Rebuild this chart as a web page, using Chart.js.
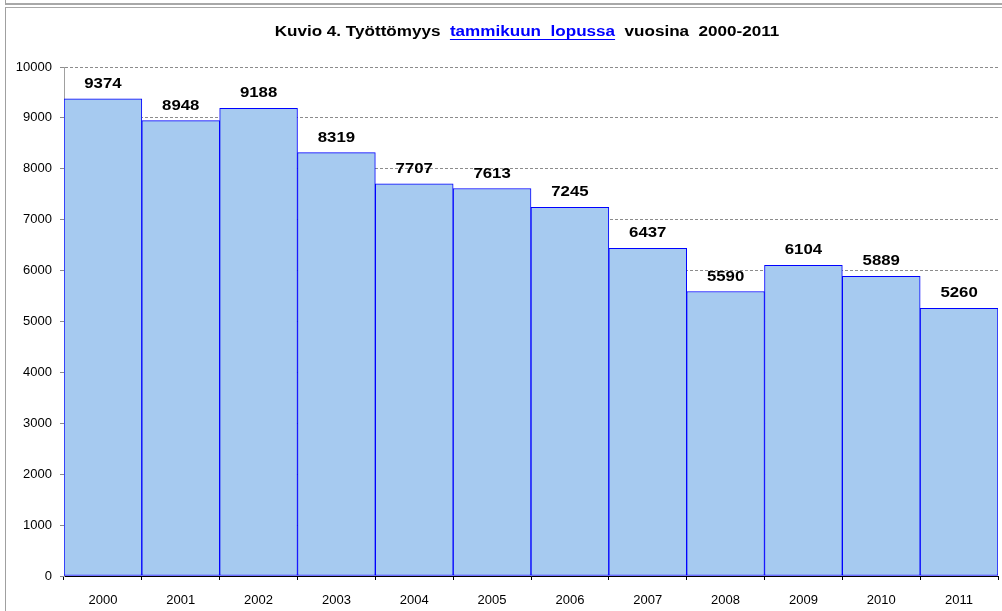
<!DOCTYPE html>
<html>
<head>
<meta charset="utf-8">
<script src="https://cdn.jsdelivr.net/npm/chart.js@4.4.0/dist/chart.umd.min.js"></script>
<style>
    html, body { margin: 0; padding: 0; background: #ffffff; }
    #wrap { position: relative; width: 1002px; height: 611px; overflow: hidden; }
    #topFrame { position: absolute; left: 5px; top: -2px; width: 1000px; height: 5px; border-left: 1px solid #a0a0a0; border-bottom: 2px solid #a8a8a8; }
    #mainFrame { position: absolute; left: 5px; top: 7px; width: 1000px; height: 610px; border-left: 1px solid #a0a0a0; border-top: 1px solid #a8a8a8; }
    #myChart { position: absolute; left: 0; top: 0; }
</style>
</head>
<body>
<div id="wrap">
    <div id="topFrame"></div>
    <div id="mainFrame"></div>
    <canvas id="myChart" width="1002" height="611"></canvas>
</div>
<script>
// Données
const years = ['2000', '2001', '2002', '2003', '2004', '2005', '2006', '2007', '2008', '2009', '2010', '2011'];
const unemployed = [9374, 8948, 9188, 8319, 7707, 7613, 7245, 6437, 5590, 6104, 5889, 5260];
const yTicks = [0, 1000, 2000, 3000, 4000, 5000, 6000, 7000, 8000, 9000, 10000];

const titleParts = [
    { text: 'Kuvio 4. Työttömyys  ', color: '#000000', link: false },
    { text: 'tammikuun  lopussa', color: '#0000ff', link: true },
    { text: '  vuosina  2000-2011', color: '#000000', link: false },
];

const FONT = 'Arial, "Liberation Sans", sans-serif';

/**
 * Titre en plusieurs couleurs, avec le lien souligné (texte un peu étiré comme l'original).
 */
const titlePlugin = {
    id: 'multiTitle',
    afterDraw(chart)
    {
        const ctx = chart.ctx;
        const area = chart.chartArea;
        const stretch = 1.22;
        ctx.save();
        ctx.font = 'bold 14px ' + FONT;
        ctx.textBaseline = 'middle';
        ctx.textAlign = 'left';
        const total = titleParts.reduce((acc, p) => acc + ctx.measureText(p.text).width, 0) * stretch;
        const cx = (area.left + area.right) / 2 - 4;
        const y = 32;
        ctx.translate(cx - total / 2, 0);
        ctx.scale(stretch, 1);
        let x = 0;
        titleParts.forEach(p => {
            const w = ctx.measureText(p.text).width;
            ctx.fillStyle = p.color;
            ctx.fillText(p.text, x, y);
            if (p.link) {
                ctx.fillRect(x, y + 7, w, 1);
            }
            x += w;
        });
        ctx.restore();
    },
};

/**
 * Valeurs au-dessus des barres.
 */
const valueLabels = {
    id: 'valueLabels',
    afterDatasetsDraw(chart)
    {
        const ctx = chart.ctx;
        const meta = chart.getDatasetMeta(0);
        const stretch = 1.12;
        ctx.save();
        ctx.font = 'bold 15px ' + FONT;
        ctx.fillStyle = '#000000';
        ctx.textAlign = 'center';
        ctx.textBaseline = 'middle';
        meta.data.forEach((bar, i) => {
            ctx.save();
            ctx.translate(bar.x, bar.y - 15);
            ctx.scale(stretch, 1);
            ctx.fillText(String(unemployed[i]), 0, 0);
            ctx.restore();
        });
        ctx.restore();
    },
};

const ctx = document.getElementById('myChart').getContext('2d');

const config = {
    type: 'bar',
    data: {
        labels: years,
        datasets: [{
            data: unemployed,
            backgroundColor: '#a6caf0',
            borderColor: '#0000ff',
            borderWidth: 1,
            borderSkipped: false,
            barPercentage: 1,
            categoryPercentage: 1,
        }],
    },
    options: {
        responsive: false,
        animation: false,
        events: [],
        layout: {
            padding: { left: 10, right: 4, top: 67, bottom: 0 },
        },
        plugins: {
            legend: { display: false },
            title: { display: false },
            tooltip: { enabled: false },
        },
        scales: {
            x: {
                offset: true,
                afterFit: scale => { scale.height = 35; },
                grid: {
                    offset: true,
                    drawOnChartArea: false,
                    drawTicks: true,
                    tickLength: 4,
                    color: '#000000',
                },
                border: { display: true, color: '#000000', width: 1 },
                ticks: {
                    color: '#000000',
                    font: { family: FONT, size: 13 },
                    padding: 13,
                    maxRotation: 0,
                },
            },
            y: {
                min: 0,
                max: 10000,
                afterFit: scale => { scale.width = 54; },
                afterBuildTicks: scale => { scale.ticks = yTicks.map(v => ({ value: v })); },
                grid: {
                    color: '#8c8c8c',
                    tickLength: 4,
                    drawTicks: true,
                },
                border: { display: true, color: '#a0a0a0', width: 1, dash: [3, 2] },
                ticks: {
                    color: '#000000',
                    font: { family: FONT, size: 13 },
                    padding: 8,
                    callback: value => String(value),
                },
            },
        },
    },
    plugins: [titlePlugin, valueLabels],
};

const myChart = new Chart(ctx, config);
</script>
</body>
</html>
